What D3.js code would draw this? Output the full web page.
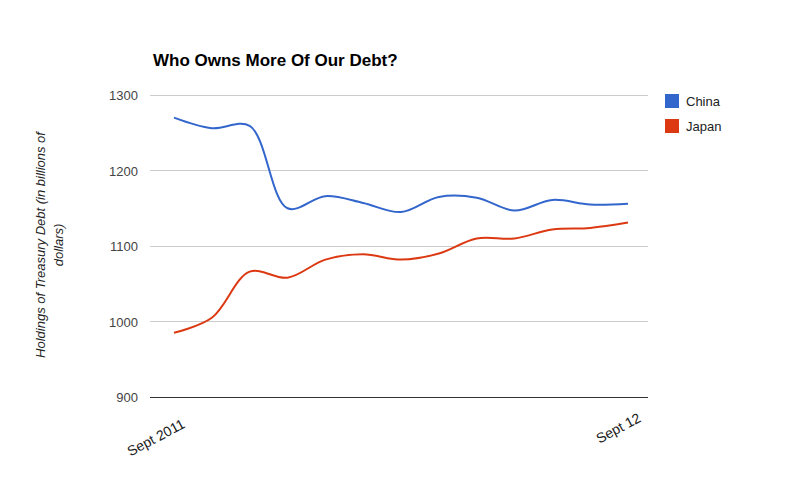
<!DOCTYPE html>
<html><head><meta charset="utf-8">
<script src="https://cdn.jsdelivr.net/npm/d3@7"></script>
<style>body{margin:0;background:#fff;font-family:"Liberation Sans",Arial,sans-serif}</style>
</head><body><svg id="c" width="800" height="493"></svg>
<script>
const months = ["Sept 2011","Oct","Nov","Dec","Jan","Feb","Mar","Apr","May","Jun","Jul","Aug","Sept 12"];
const china = [1270,1256,1259,1150,1166,1157,1145,1165,1164,1147,1161,1155,1156];
const japan = [985,1005,1066,1058,1082,1089,1082,1090,1110,1110,1122,1124,1131];
const yTicks = [900,1000,1100,1200,1300];
const xLabels = [{i:0,t:"Sept 2011"},{i:12,t:"Sept 12"}];
const seriesNames = ["China","Japan"];
const colors = ["#3366cc","#dc3912"];

const svg = d3.select("#c");
const x = d3.scaleLinear().domain([0,12]).range([174,628]);
const y = d3.scaleLinear().domain([900,1300]).range([397,95]);
const L=150,R=648;

svg.append("text").attr("x",153).attr("y",66).attr("font-size",17).attr("font-weight","bold").text("Who Owns More Of Our Debt?");

yTicks.forEach(v=>{
  svg.append("line").attr("x1",L).attr("x2",R).attr("y1",y(v)).attr("y2",y(v))
    .attr("stroke",v===900?"#333":"#ccc").attr("stroke-width",1).attr("shape-rendering","crispEdges");
  svg.append("text").attr("x",138).attr("y",y(v)+5).attr("text-anchor","end").attr("font-size",13).attr("fill","#444").text(v);
});
xLabels.forEach(d=>{
  svg.append("text").attr("transform",`translate(${x(d.i)+(d.i?14:12)},${y(900)+(d.i?24:30)}) rotate(-28)`)
    .attr("text-anchor","end").attr("font-size",14).attr("fill","#222").text(d.t);
});
svg.append("text").attr("transform","translate(45,245) rotate(-90)").attr("text-anchor","middle")
  .attr("font-size",13).attr("font-style","italic").attr("fill","#222")
  .selectAll("tspan").data(["Holdings of Treasury Debt (in billions of","dollars)"]).join("tspan")
  .attr("x",0).attr("dy",(d,i)=>i?18:0).text(d=>d);

const line = d3.line().x((d,i)=>x(i)).y(d=>y(d)).curve(d3.curveCatmullRom.alpha(0.5));
[china,japan].forEach((s,k)=>{
  svg.append("path").attr("d",line(s)).attr("fill","none").attr("stroke",colors[k]).attr("stroke-width",2);
});
seriesNames.forEach((n,k)=>{
  svg.append("rect").attr("x",665).attr("y",94+k*25).attr("width",14).attr("height",14).attr("fill",colors[k]);
  svg.append("text").attr("x",686).attr("y",106+k*25).attr("font-size",13).attr("fill","#222").text(n);
});
</script></body></html>
